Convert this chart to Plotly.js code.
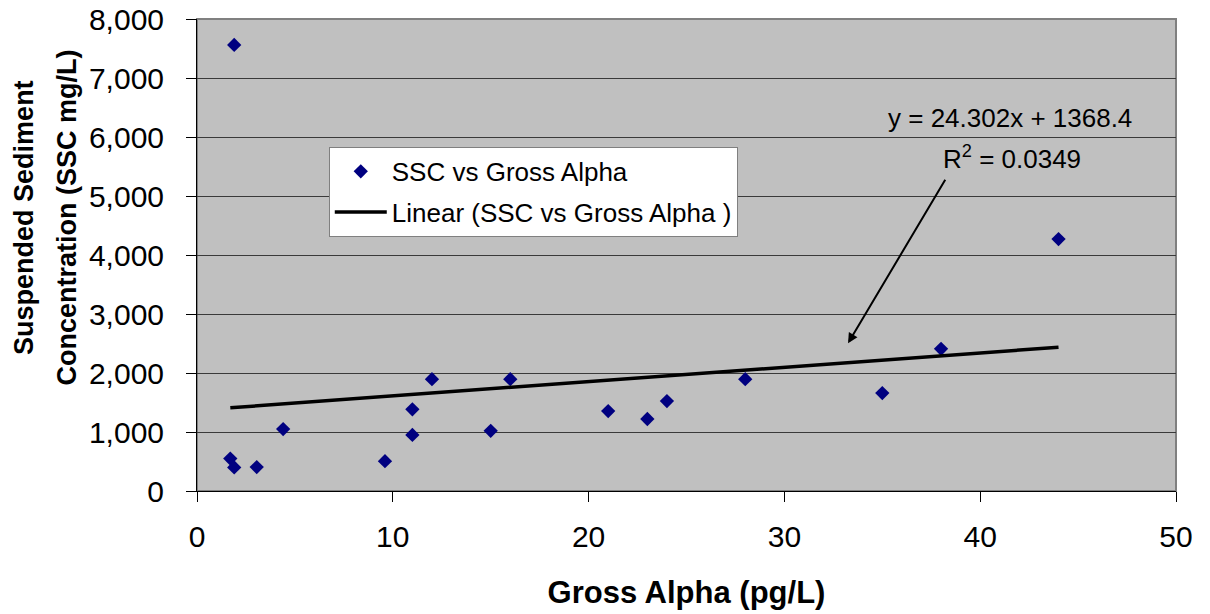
<!DOCTYPE html>
<html>
<head>
<meta charset="utf-8">
<script src="https://cdn.plot.ly/plotly-3.0.1.min.js"></script>
<style>html,body{margin:0;padding:0;background:#fff;}#chart{width:1210px;height:614px;}</style>
</head>
<body>
<div id="chart"></div>
<script>
// Data
const grossAlpha = [1.7, 1.9, 1.9, 3.05, 4.4, 9.6, 11.0, 11.0, 12.0, 15.0, 16.0, 21.0, 23.0, 24.0, 28.0, 35.0, 38.0, 44.0];
const ssc        = [550, 7560, 400, 405, 1050, 505, 1385, 950, 1895, 1020, 1895, 1355, 1220, 1525, 1895, 1660, 2410, 4270];
const trendSlope = 24.302;
const trendIntercept = 1368.4;
const seriesName = "SSC vs Gross Alpha";
const trendName = "Linear (SSC vs Gross Alpha )";
const xTitle = "Gross Alpha (pg/L)";
const yTitleLines = ["Suspended Sediment", "Concentration (SSC mg/L)"];
const xTickVals = [0, 10, 20, 30, 40, 50];
const yTickVals = [0, 1000, 2000, 3000, 4000, 5000, 6000, 7000, 8000];
const yTickText = ["0", "1,000", "2,000", "3,000", "4,000", "5,000", "6,000", "7,000", "8,000"];

const xMin = Math.min(...grossAlpha), xMax = Math.max(...grossAlpha);
const trendX = [xMin, xMax];
const trendY = trendX.map(v => trendSlope * v + trendIntercept);

const FONT = "Liberation Sans, Arial, sans-serif";

const traces = [
  {
    x: grossAlpha, y: ssc, type: "scatter", mode: "markers", name: seriesName,
    legendgroup: "a",
    marker: {symbol: "diamond", size: 11, color: "#000080"}
  },
  {
    x: trendX, y: trendY, type: "scatter", mode: "lines", name: trendName,
    legendgroup: "b",
    line: {color: "#000000", width: 3.5}
  }
];

const layout = {
  width: 1210, height: 614,
  margin: {l: 197, r: 34, t: 19, b: 123},
  paper_bgcolor: "#ffffff",
  plot_bgcolor: "#c0c0c0",
  font: {family: FONT, size: 26, color: "#000"},
  showlegend: true,
  legend: {
    x: 0.1346, y: 0.729, xanchor: "left", yanchor: "top",
    bgcolor: "#ffffff", bordercolor: "#808080", borderwidth: 1,
    font: {family: FONT, size: 26, color: "#000"},
    traceorder: "grouped", tracegroupgap: 4, itemwidth: 52
  },
  xaxis: {
    range: [0, 50], tickvals: xTickVals, ticktext: xTickVals.map(String),
    showgrid: false, zeroline: false,
    showline: true, linecolor: "#000", linewidth: 1,
    ticks: "outside", ticklen: 10, tickcolor: "#000",
    ticklabelstandoff: 9,
    tickfont: {family: FONT, size: 30},
    title: {text: "<b>" + xTitle + "</b>", font: {family: FONT, size: 31}, standoff: 29}
  },
  yaxis: {
    range: [0, 8000], tickvals: yTickVals, ticktext: yTickText,
    showgrid: true, gridcolor: "#3a3a3a", gridwidth: 1, zeroline: false,
    showline: true, linecolor: "#000", linewidth: 1,
    ticks: "outside", ticklen: 10, tickcolor: "#000",
    ticklabelstandoff: 16,
    tickfont: {family: FONT, size: 30}
  },
  shapes: [
    {type: "rect", xref: "paper", yref: "paper", x0: 0, x1: 1, y0: 0, y1: 1,
     line: {color: "#808080", width: 2}, fillcolor: "rgba(0,0,0,0)", layer: "below"}
  ],
  annotations: [
    {xref: "paper", yref: "paper", x: -0.176, y: 0.58, text: "<b>" + yTitleLines[0] + "</b>", textangle: -90,
     showarrow: false, font: {family: FONT, size: 27, color: "#000"}, xanchor: "center", yanchor: "middle"},
    {xref: "paper", yref: "paper", x: -0.1326, y: 0.58, text: "<b>" + yTitleLines[1] + "</b>", textangle: -90,
     showarrow: false, font: {family: FONT, size: 27, color: "#000"}, xanchor: "center", yanchor: "middle"},
    {xref: "x", yref: "y", x: 41.5, y: 6330, text: "y = 24.302x + 1368.4",
     showarrow: false, font: {family: FONT, size: 26, color: "#000"}, xanchor: "center", yanchor: "middle"},
    {xref: "x", yref: "y", x: 41.6, y: 5660, text: "R<sup>2</sup> = 0.0349",
     showarrow: false, font: {family: FONT, size: 26, color: "#000"}, xanchor: "center", yanchor: "middle"},
    {xref: "x", yref: "y", x: 33.25, y: 2505, axref: "x", ayref: "y", ax: 38.26, ay: 5300,
     text: "", showarrow: true, arrowhead: 2, arrowsize: 1, arrowwidth: 2, arrowcolor: "#000"}
  ]
};

Plotly.newPlot("chart", traces, layout, {displayModeBar: false, staticPlot: true});
</script>
</body>
</html>
